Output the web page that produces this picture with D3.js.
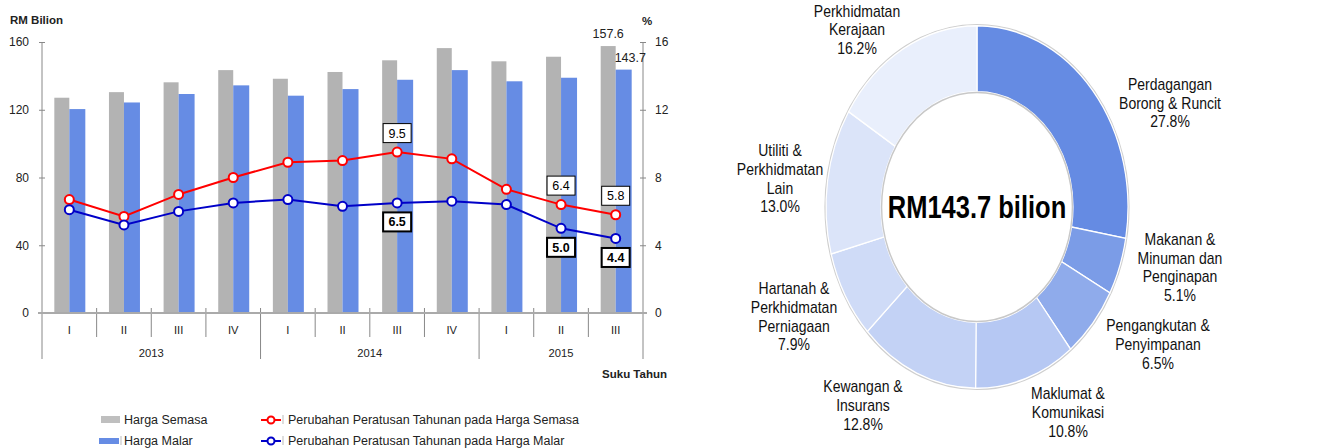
<!DOCTYPE html>
<html>
<head>
<meta charset="utf-8">
<script src="https://cdn.jsdelivr.net/npm/d3@7"></script>
<style>
    body { margin: 0; background: #fff; }
    svg { font-family: "Liberation Sans", Arial, sans-serif; }
    .tick text { font-size: 12px; fill: #222; }
    .lbl { font-size: 11.2px; fill: #222; }
    .bold { font-weight: bold; font-size: 11.5px; }
    .legend { font-size: 12.5px; fill: #222; }
    .val { font-size: 12.5px; fill: #222; }
    .sector { font-size: 14px; fill: #111; }
</style>
</head>
<body>
<svg id="chart" width="1326" height="448"></svg>
<script>
    const quarters = ["I", "II", "III", "IV", "I", "II", "III", "IV", "I", "II", "III"];
    const years = ["2013", "2014", "2015"];
    const quarterYear = ["2013", "2013", "2013", "2013", "2014", "2014", "2014", "2014", "2015", "2015", "2015"];
    const hargaSemasa = [127.1, 130.4, 136.2, 143.4, 138.3, 142.3, 149.2, 156.4, 148.6, 151.3, 157.6];
    const hargaMalar = [120.4, 124.3, 129.3, 134.4, 128.3, 132.2, 137.7, 143.4, 136.8, 138.9, 143.7];
    const pctSemasa = [6.7, 5.7, 7.0, 8.0, 8.9, 9.0, 9.5, 9.1, 7.3, 6.4, 5.8];
    const pctMalar = [6.1, 5.2, 6.0, 6.5, 6.7, 6.3, 6.5, 6.6, 6.4, 5.0, 4.4];
    const labelledIdx = [6, 9, 10];
    const leftTicks = [0, 40, 80, 120, 160];
    const rightTicks = [0, 4, 8, 12, 16];

    const sectors = [
        ["Perdagangan", "Borong & Runcit"],
        ["Makanan &", "Minuman dan", "Penginapan"],
        ["Pengangkutan &", "Penyimpanan"],
        ["Maklumat &", "Komunikasi"],
        ["Kewangan &", "Insurans"],
        ["Hartanah &", "Perkhidmatan", "Perniagaan"],
        ["Utiliti &", "Perkhidmatan", "Lain"],
        ["Perkhidmatan", "Kerajaan"]
    ];
    const shares = [27.8, 5.1, 6.5, 10.8, 12.8, 7.9, 13.0, 16.2];
    const totalLabel = "RM143.7 bilion";

    // styles / layout (kept apart from data)
    const sliceColors = ["#658be3", "#7b9ce7", "#8fabeb", "#b6c8f3", "#c3d2f5", "#cfdbf7", "#dbe4f9", "#e9effc"];
    const labelPos = [[193, -87], [203, 50], [181, 114], [91, 171], [-114, 165], [-183, 91], [-197, -24], [-120, -148]];

    const svg = d3.select("#chart");

    // ---------- left: bars + lines ----------
    const plotL = 42, plotR = 643, plotT = 42, base = 313;

    const x = d3.scaleBand().domain(d3.range(quarters.length)).range([plotL, plotR]);
    const yL = d3.scaleLinear().domain([0, 160]).range([base, plotT]);
    const yR = d3.scaleLinear().domain([0, 16]).range([base, plotT]);
    const cx = function (i) { return x(i) + x.bandwidth() / 2; };

    const gAxis = svg.append("g");

    gAxis.append("g")
        .attr("transform", "translate(" + plotL + ",0)")
        .call(d3.axisLeft(yL).tickValues(leftTicks).tickSize(3).tickPadding(10).tickSizeOuter(0))
        .call(function (g) {
            g.select(".domain").remove();
            g.selectAll(".tick line").attr("x1", 3).attr("stroke", "#888");
        });

    gAxis.append("g")
        .attr("transform", "translate(" + plotR + ",0)")
        .call(d3.axisRight(yR).tickValues(rightTicks).tickSize(3).tickPadding(9).tickSizeOuter(0))
        .call(function (g) {
            g.select(".domain").remove();
            g.selectAll(".tick line").attr("x1", -3).attr("stroke", "#888");
        });

    // vertical axis lines
    [plotL, plotR].forEach(function (xx) {
        gAxis.append("line")
            .attr("x1", xx).attr("x2", xx)
            .attr("y1", plotT).attr("y2", 359)
            .attr("stroke", "#888");
    });

    // quarter and year dividers
    d3.range(1, quarters.length).forEach(function (i) {
        const newYear = quarterYear[i] !== quarterYear[i - 1];
        gAxis.append("line")
            .attr("x1", x(i)).attr("x2", x(i))
            .attr("y1", 308).attr("y2", newYear ? 359 : 337)
            .attr("stroke", "#888");
    });

    gAxis.selectAll("text.q")
        .data(quarters).enter()
        .append("text")
        .attr("class", "lbl q")
        .attr("x", function (d, i) { return cx(i); })
        .attr("y", 334)
        .attr("text-anchor", "middle")
        .text(function (d) { return d; });

    gAxis.selectAll("text.yr")
        .data(years).enter()
        .append("text")
        .attr("class", "lbl yr")
        .attr("x", function (yr) {
            const idx = d3.range(quarters.length).filter(function (i) { return quarterYear[i] === yr; });
            return (x(idx[0]) + x(idx[idx.length - 1]) + x.bandwidth()) / 2;
        })
        .attr("y", 357)
        .attr("text-anchor", "middle")
        .text(function (d) { return d; });

    svg.append("text").attr("class", "lbl bold").attr("x", 10).attr("y", 24).text("RM Bilion");
    svg.append("text").attr("class", "lbl bold").attr("x", 642).attr("y", 25).text("%");
    svg.append("text").attr("class", "lbl bold").attr("x", 667).attr("y", 378)
        .attr("text-anchor", "end").text("Suku Tahun");

    // bars
    const gBars = svg.append("g");
    gBars.selectAll("rect.semasa")
        .data(hargaSemasa).enter()
        .append("rect")
        .attr("class", "semasa")
        .attr("x", function (d, i) { return cx(i) - 15; })
        .attr("width", 15)
        .attr("y", function (d) { return yL(d); })
        .attr("height", function (d) { return base - yL(d); })
        .attr("fill", "#b3b3b3");

    gBars.selectAll("rect.malar")
        .data(hargaMalar).enter()
        .append("rect")
        .attr("class", "malar")
        .attr("x", function (d, i) { return cx(i); })
        .attr("width", 16)
        .attr("y", function (d) { return yL(d); })
        .attr("height", function (d) { return base - yL(d); })
        .attr("fill", "#668ce4");

    // baseline
    svg.append("line")
        .attr("x1", plotL - 4).attr("x2", plotR + 4)
        .attr("y1", base).attr("y2", base)
        .attr("stroke", "#aaa").attr("stroke-width", 2);

    // last bar values
    const last = quarters.length - 1;
    svg.append("text").attr("class", "val")
        .attr("x", cx(last) - 7.5).attr("y", yL(hargaSemasa[last]) - 8)
        .attr("text-anchor", "middle").text(hargaSemasa[last].toFixed(1));
    svg.append("text").attr("class", "val")
        .attr("x", cx(last) - 1).attr("y", yL(hargaMalar[last]) - 8)
        .text(hargaMalar[last].toFixed(1));

    // lines
    function drawLine(values, color) {
        const g = svg.append("g");
        g.append("path")
            .datum(values)
            .attr("fill", "none")
            .attr("stroke", color)
            .attr("stroke-width", 2)
            .attr("d", d3.line().x(function (d, i) { return cx(i); }).y(function (d) { return yR(d); }));
        g.selectAll("circle")
            .data(values).enter()
            .append("circle")
            .attr("cx", function (d, i) { return cx(i); })
            .attr("cy", function (d) { return yR(d); })
            .attr("r", 4.5)
            .attr("fill", "#fff")
            .attr("stroke", color)
            .attr("stroke-width", 2);
    }
    drawLine(pctSemasa, "#ff0000");
    drawLine(pctMalar, "#0000c8");

    function drawBoxes(values, dy, bold) {
        const g = svg.append("g");
        labelledIdx.forEach(function (i) {
            const yy = yR(values[i]) + dy;
            g.append("rect")
                .attr("x", cx(i) - 14).attr("y", yy - 9.5)
                .attr("width", 28).attr("height", 19)
                .attr("fill", "#fff")
                .attr("stroke", "#000")
                .attr("stroke-width", bold ? 2 : 1);
            g.append("text")
                .attr("class", "val")
                .attr("x", cx(i)).attr("y", yy + 4.5)
                .attr("text-anchor", "middle")
                .style("fill", "#000")
                .style("font-weight", bold ? "bold" : "normal")
                .text(values[i].toFixed(1));
        });
    }
    drawBoxes(pctSemasa, -19, false);
    drawBoxes(pctMalar, 19, true);

    // legend
    const gLeg = svg.append("g");
    gLeg.append("rect").attr("x", 101).attr("y", 416).attr("width", 19).attr("height", 7).attr("fill", "#bfbfbf");
    gLeg.append("rect").attr("x", 99).attr("y", 438).attr("width", 20).attr("height", 6).attr("fill", "#668ce4");
    gLeg.append("line").attr("x1", 121).attr("x2", 121).attr("y1", 436).attr("y2", 445).attr("stroke", "#bbb");
    gLeg.append("text").attr("class", "legend").attr("x", 124).attr("y", 424).text("Harga Semasa");
    gLeg.append("text").attr("class", "legend").attr("x", 124).attr("y", 445).text("Harga Malar");

    [["#ff0000", 420, "Perubahan Peratusan Tahunan pada Harga Semasa"],
     ["#0000c8", 441, "Perubahan Peratusan Tahunan pada Harga Malar"]].forEach(function (d) {
        gLeg.append("line").attr("x1", 261).attr("x2", 281).attr("y1", d[1]).attr("y2", d[1])
            .attr("stroke", d[0]).attr("stroke-width", 2);
        gLeg.append("circle").attr("cx", 271).attr("cy", d[1]).attr("r", 3.5)
            .attr("fill", "#fff").attr("stroke", d[0]).attr("stroke-width", 2);
        gLeg.append("line").attr("x1", 283).attr("x2", 283).attr("y1", d[1] - 5).attr("y2", d[1] + 4)
            .attr("stroke", "#bbb");
        gLeg.append("text").attr("class", "legend").attr("x", 288).attr("y", d[1] + 4).text(d[2]);
    });

    // ---------- right: donut ----------
    const rOuter = 151, rInner = 96, lineH = 15.7;
    const gPie = svg.append("g").attr("transform", "translate(977,207) scale(1,1.2)");

    const pie = d3.pie().sort(null).value(function (d) { return d; });
    const arc = d3.arc().innerRadius(rInner).outerRadius(rOuter);
    const arcs = pie(shares);

    gPie.append("circle").attr("r", rOuter + 0.8).attr("fill", "none")
        .attr("stroke", "#cfcfcf").attr("stroke-width", 1.6);

    gPie.selectAll("path.slice")
        .data(arcs).enter()
        .append("path")
        .attr("class", "slice")
        .attr("d", arc)
        .attr("fill", function (d, i) { return sliceColors[i]; })
        .attr("stroke", "#fff")
        .attr("stroke-width", 1.2);

    gPie.append("circle").attr("r", rInner - 0.6).attr("fill", "#fff")
        .attr("stroke", "#c8c8c8").attr("stroke-width", 1.4);

    gPie.append("text")
        .attr("x", 0).attr("y", 9.4)
        .attr("text-anchor", "middle")
        .style("font-size", "25.5px")
        .style("font-weight", "bold")
        .style("fill", "#000")
        .text(totalLabel);

    sectors.forEach(function (lines, i) {
        const all = lines.concat([shares[i].toFixed(1) + "%"]);
        const p = labelPos[i];
        const t = gPie.append("text")
            .attr("class", "sector")
            .attr("text-anchor", "middle");
        all.forEach(function (s, k) {
            t.append("tspan")
                .attr("x", p[0])
                .attr("y", p[1] + (k - (all.length - 1) / 2) * lineH + 5)
                .text(s);
        });
    });
</script>
</body>
</html>
